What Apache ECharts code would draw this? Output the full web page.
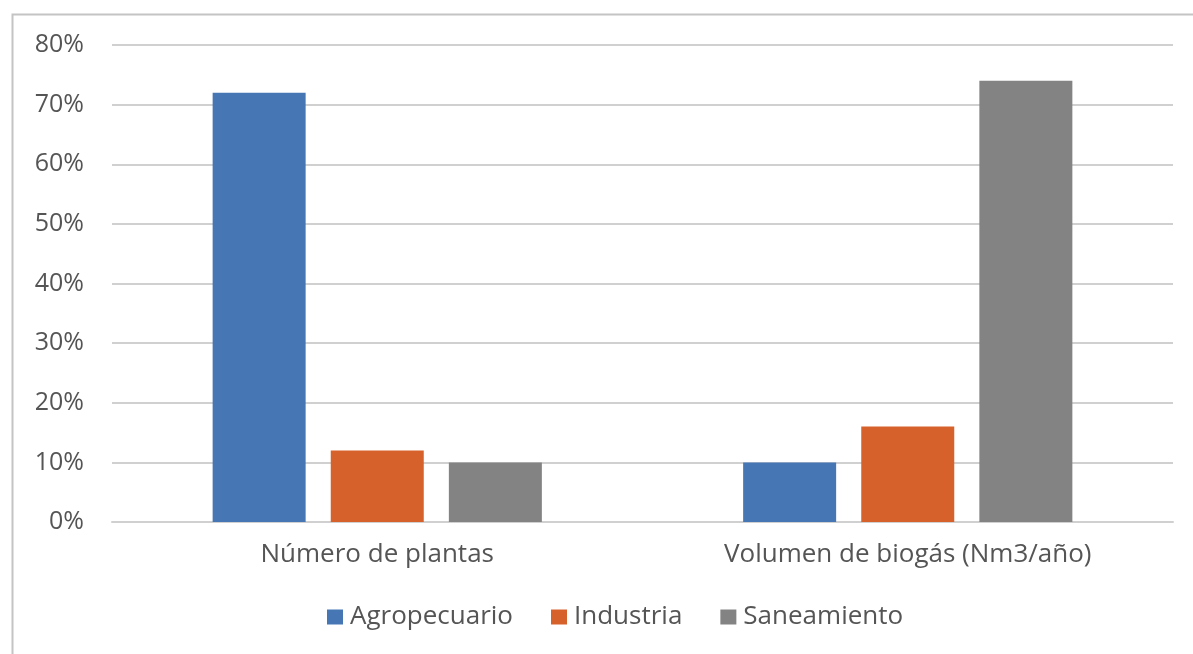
<!DOCTYPE html>
<html>
<head>
<meta charset="utf-8">
<script src="https://cdn.jsdelivr.net/npm/echarts@6/dist/echarts.min.js"></script>
<style>
html,body{margin:0;padding:0;background:#fff;}
#c{width:1193px;height:654px;}
</style>
</head>
<body>
<div id="c"></div>
<script>
var categories = ['Número de plantas', 'Volumen de biogás (Nm3/año)'];
var seriesNames = ['Agropecuario', 'Industria', 'Saneamiento'];
var agropecuario = [72, 10];
var industria = [12, 16];
var saneamiento = [10, 74];
var colors = ['#4677b4', '#d7612a', '#838383'];

var chart = echarts.init(document.getElementById('c'));
var font = 'Open Sans, Lato, sans-serif';
var vals = [agropecuario, industria, saneamiento];
chart.setOption({
  animation: false,
  graphic: [{
    type: 'rect', left: 10, top: 12,
    shape: {width: 1300, height: 800},
    style: {fill: 'none', stroke: '#c4c4c4', lineWidth: 2},
    silent: true
  }],
  grid: {left: 112, right: 20, top: 45, bottom: 132},
  legend: {
    bottom: 19, left: 322,
    itemWidth: 16, itemHeight: 15, itemGap: 38,
    icon: 'rect',
    textStyle: {fontFamily: font, fontSize: 26, color: '#555555', padding: [0,0,0,2]},
    data: seriesNames
  },
  xAxis: {
    type: 'category', data: categories,
    axisLine: {show: true, lineStyle: {color: '#d0d0d0', width: 2}},
    axisTick: {show: false},
    axisLabel: {fontFamily: font, fontSize: 26, color: '#555555', margin: 20}
  },
  yAxis: {
    type: 'value', min: 0, max: 80, interval: 10,
    axisLine: {show: false}, axisTick: {show: false},
    splitLine: {lineStyle: {color: '#d0d0d0', width: 2}},
    axisLabel: {fontFamily: font, fontSize: 25, color: '#555555', margin: 28, formatter: '{value}%'}
  },
  series: seriesNames.map(function(n, i){
    return {
      name: n, type: 'bar', data: vals[i],
      barWidth: 93, barGap: '27%',
      itemStyle: {color: colors[i]}
    };
  })
});
</script>
</body>
</html>
